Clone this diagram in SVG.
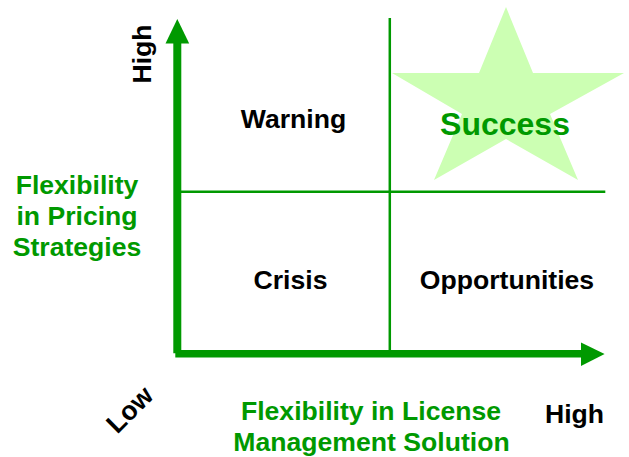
<svg xmlns="http://www.w3.org/2000/svg" width="629" height="457" viewBox="0 0 629 457">
<style>
  .t { font-family: "Liberation Sans", Arial, sans-serif; font-weight: bold; font-size: 26.6px; }
  .g { fill: #009900; }
  .k { fill: #000000; }
  .axis { stroke: #009900; stroke-width: 8; fill: none; }
  .div { stroke: #009900; stroke-width: 2.5; fill: none; }
</style>
<rect width="629" height="457" fill="#ffffff"/>
<g id="star">
  <polygon points="506,7 533,73 624,73 550,114 578,180 506,139 434,180 462,114 392,73 479,73" fill="#ccffb3"/>
</g>
<g id="connectors">
  <line class="div" x1="389.8" y1="18" x2="389.8" y2="351"/>
  <line class="div" x1="181" y1="191.8" x2="605.3" y2="191.8"/>
  <line class="axis" x1="177.3" y1="353.3" x2="177.3" y2="42"/>
  <polygon points="177.3,19 165.5,43.5 189.2,43.5" fill="#009900"/>
  <line class="axis" style="stroke-width:7.5" x1="175.3" y1="353.8" x2="582" y2="353.8"/>
  <polygon points="604.6,354 581,342.5 581,366" fill="#009900"/>
</g>
<g id="success">
  <text class="t g" x="505" y="135" text-anchor="middle" style="font-size:32px">Success</text>
</g>
<g id="warning">
  <text class="t k" x="293.5" y="127.5" text-anchor="middle">Warning</text>
</g>
<g id="crisis">
  <text class="t k" x="290.5" y="288.5" text-anchor="middle">Crisis</text>
</g>
<g id="opportunities">
  <text class="t k" x="507" y="288.5" text-anchor="middle">Opportunities</text>
</g>
<g id="y-label">
  <text class="t g" text-anchor="middle"><tspan x="77" y="193.5">Flexibility</tspan><tspan x="77" y="224.8">in Pricing</tspan><tspan x="77" y="256">Strategies</tspan></text>
</g>
<g id="y-high">
  <text class="t k" transform="translate(150.5,54) rotate(-90)" text-anchor="middle">High</text>
</g>
<g id="x-label">
  <text class="t g" text-anchor="middle"><tspan x="371" y="420">Flexibility in License</tspan><tspan x="371.5" y="450.5">Management Solution</tspan></text>
</g>
<g id="x-high">
  <text class="t k" x="574.5" y="423" text-anchor="middle">High</text>
</g>
<g id="low">
  <text class="t k" transform="translate(136,416) rotate(-45)" text-anchor="middle">Low</text>
</g>
</svg>
